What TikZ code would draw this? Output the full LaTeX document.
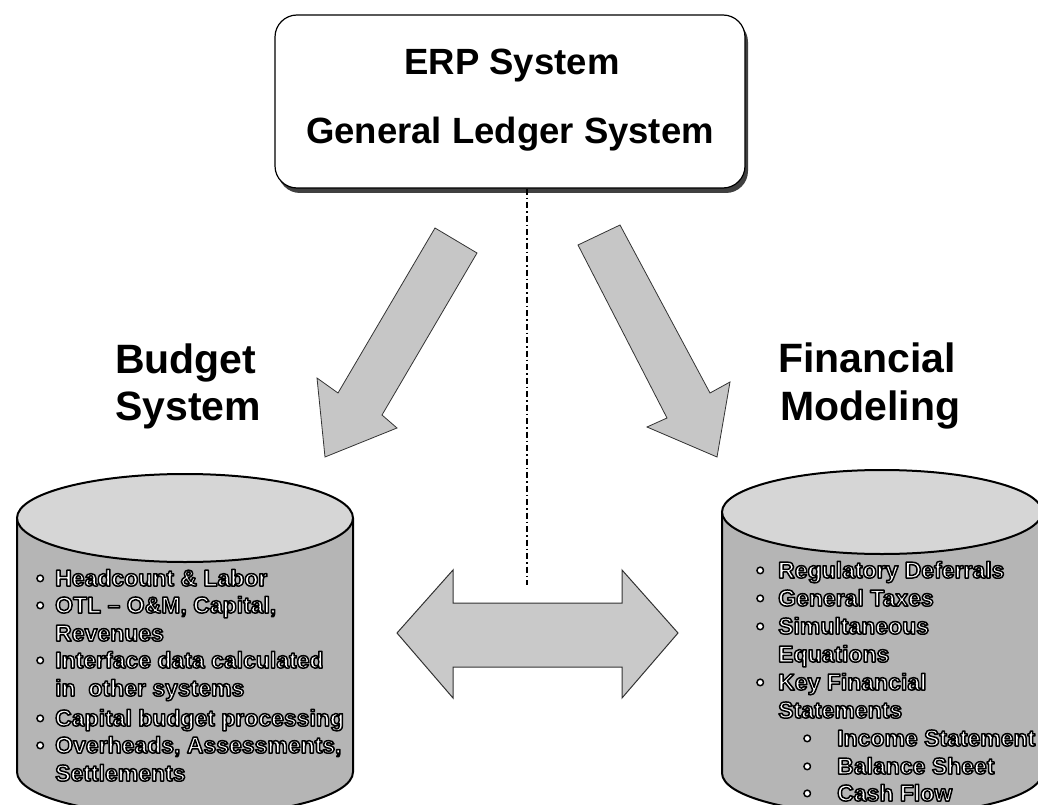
\documentclass[tikz,border=0pt]{standalone}
\usepackage{fontspec}
\setmainfont{Liberation Sans}
\newcommand{\outl}[1]{\special{pdf:literal direct 0 0 0 RG 1.5 w 1 j 2 Tr}#1\special{pdf:literal direct 0 Tr}}
\begin{document}
\begin{tikzpicture}[x=1pt,y=-1pt,
  title/.style={font=\fontsize{36.5}{40}\selectfont\bfseries, inner sep=0pt},
  label/.style={font=\fontsize{41}{46}\selectfont\bfseries, inner sep=0pt, anchor=base west},
  item/.style={font=\fontsize{23}{27}\selectfont\bfseries, text=white, inner sep=0pt, anchor=base west},
  blockarrow/.style={fill=gray!45, draw=black!80, line width=0.8pt, line join=miter},
  cylbody/.style={fill=gray!58},
  cyltop/.style={fill=gray!32, draw=black, line width=2pt},
  cyledge/.style={draw=black, line width=2pt},
  dashdot/.style={draw=black, line width=1.3pt, dash pattern=on 6pt off 3pt on 1.5pt off 3pt}]
\useasboundingbox (0,0) rectangle (1038,805);
\clip (0,0) rectangle (1038,805);

% top box
\fill[black!75, rounded corners=22pt] (278,20) rectangle (748,193);
\node[name=erp, draw=black, line width=1.2pt, fill=white, rounded corners=22pt,
      minimum width=470pt, minimum height=173pt, inner sep=0pt] at (510,101.5) {};
\node[title, anchor=base, name=erpt] at (512,75) {ERP System};
\node[title, anchor=base, name=glt] at (510,144) {General Ledger System};

% dashed link
\coordinate (dend) at (527,585);
\draw[dashdot] (erp.south -| dend) -- (dend);

% big arrows
\path[blockarrow, name=larrow] (435,228) -- (477,253) -- (382,415) -- (397,428) -- (325,457) -- (317,378) -- (338,393) -- cycle;
\path[blockarrow, name=rarrow] (578,245) -- (620,225) -- (710,393) -- (730,382) -- (717,457) -- (647,427) -- (667,418) -- cycle;

% labels
\node[label, name=bud1] at (115,373) {Budget};
\node[label, name=bud2] at (115,420) {System};
\node[label, name=fin1] at (778,372) {Financial};
\node[label, name=fin2] at (780,420) {Modeling};

% double arrow
\path[blockarrow, fill=gray!42, line width=1pt] (397,633) -- (453,570) -- (453,603) -- (622,603) -- (622,570) -- (678,633) -- (622,698) -- (622,667) -- (453,667) -- (453,698) -- cycle;

% left cylinder
\fill[cylbody] (17,518) -- (17,772) arc[start angle=180,end angle=360,x radius=168pt,y radius=44pt] -- (353,518) -- cycle;
\draw[cyledge] (17,518) -- (17,772) arc[start angle=180,end angle=360,x radius=168pt,y radius=44pt] -- (353,518);
\path[cyltop] (185,518) ellipse[x radius=168pt, y radius=44pt];

% right cylinder
\fill[cylbody] (722,512) -- (722,773) arc[start angle=180,end angle=360,x radius=160pt,y radius=42pt] -- (1042,512) -- cycle;
\draw[cyledge] (722,512) -- (722,773) arc[start angle=180,end angle=360,x radius=160pt,y radius=42pt] -- (1042,512);
\path[cyltop] (882,512) ellipse[x radius=160pt, y radius=42pt];

% left items
\node[item, name=lb1] at (36,586) {\outl{•}};
\node[item, name=lt1] at (55,586) {\outl{Headcount \& Labor}};
\node[item, name=lb2] at (36,613) {\outl{•}};
\node[item, name=lt2] at (55,613) {\outl{OTL – O\&M, Capital,}};
\node[item, name=lt3] at (55,641) {\outl{Revenues}};
\node[item, name=lb4] at (36,668) {\outl{•}};
\node[item, name=lt4] at (55,668) {\outl{Interface data calculated}};
\node[item, name=lt5] at (55,696) {\outl{in\ \ other systems}};
\node[item, name=lb6] at (36,726) {\outl{•}};
\node[item, name=lt6] at (55,726) {\outl{Capital budget processing}};
\node[item, name=lb7] at (36,753) {\outl{•}};
\node[item, name=lt7] at (55,753) {\outl{Overheads, Assessments,}};
\node[item, name=lt8] at (55,781) {\outl{Settlements}};

% right items
\node[item, name=rb1] at (756,578) {\outl{•}};
\node[item, name=rt1] at (778,578) {\outl{Regulatory Deferrals}};
\node[item, name=rb2] at (756,606) {\outl{•}};
\node[item, name=rt2] at (778,606) {\outl{General Taxes}};
\node[item, name=rb3] at (756,634) {\outl{•}};
\node[item, name=rt3] at (778,634) {\outl{Simultaneous}};
\node[item, name=rt4] at (778,662) {\outl{Equations}};
\node[item, name=rb5] at (756,690) {\outl{•}};
\node[item, name=rt5] at (778,690) {\outl{Key Financial}};
\node[item, name=rt6] at (778,718) {\outl{Statements}};
\node[item, name=rb7] at (803,746) {\outl{•}};
\node[item, name=rt7] at (837,746) {\outl{Income Statement}};
\node[item, name=rb8] at (803,774) {\outl{•}};
\node[item, name=rt8] at (837,774) {\outl{Balance Sheet}};
\node[item, name=rb9] at (803,801) {\outl{•}};
\node[item, name=rt9] at (837,801) {\outl{Cash Flow}};
\end{tikzpicture}
\end{document}
